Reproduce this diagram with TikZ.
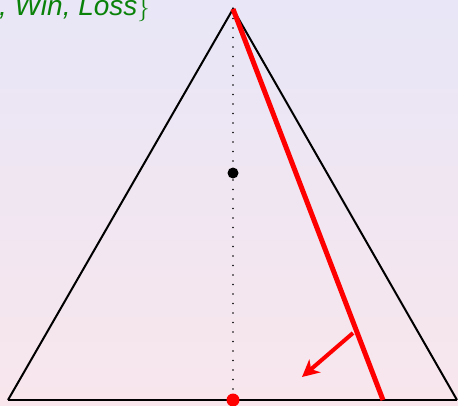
\documentclass[tikz,border=0pt]{standalone}
\usepackage{fontspec}
\newfontfamily\labfont{Liberation Sans}
\usetikzlibrary{arrows.meta}
\definecolor{bgtop}{RGB}{232,230,247}
\definecolor{bgbot}{RGB}{248,230,236}
\definecolor{labgreen}{RGB}{10,130,10}
\tikzset{
  edgeline/.style={line width=2pt, black},
  redline/.style={line width=5pt, red},
  redarrow/.style={line width=4pt, red, -{Stealth[length=17pt,width=17pt,inset=5pt]}},
  dotline/.style={line width=1.8pt, line cap=round, dash pattern=on 0pt off 9.5pt},
  blackdot/.style={circle, fill=black, inner sep=0pt, minimum size=11pt},
  reddot/.style={circle, fill=red, inner sep=0pt, minimum size=13pt},
  labeltext/.style={text=labgreen, font=\labfont\itshape\fontsize{28}{30}\selectfont, inner sep=0pt, anchor=base west}
}
\begin{document}
\begin{tikzpicture}[x=1pt,y=-1pt]
  \useasboundingbox (0,0) rectangle (458,405);
  \shade[top color=bgtop, bottom color=bgbot] (0,0) rectangle (458,405);
  \coordinate (apex) at (233,9);
  \coordinate (bl) at (8,400);
  \coordinate (br) at (457,400);
  \coordinate (mid) at (233,400);
  \coordinate (rfoot) at (383,400);
  \coordinate (astart) at (353,333);
  \coordinate (aend) at (302,377);
  \node[labeltext] (lab) at (-1,15) {, Win, Loss\/$\}$};
  \draw[edgeline] (bl) -- (br);
  \draw[edgeline, line join=miter] (bl) -- (apex) -- (br);
  \draw[dotline] (apex) -- (mid);
  \node[blackdot] (center) at (233,173) {};
  \draw[redline] (apex) -- (rfoot);
  \draw[redarrow] (astart) -- (aend);
  \node[reddot] (foot) at (mid) {};
\end{tikzpicture}
\end{document}
